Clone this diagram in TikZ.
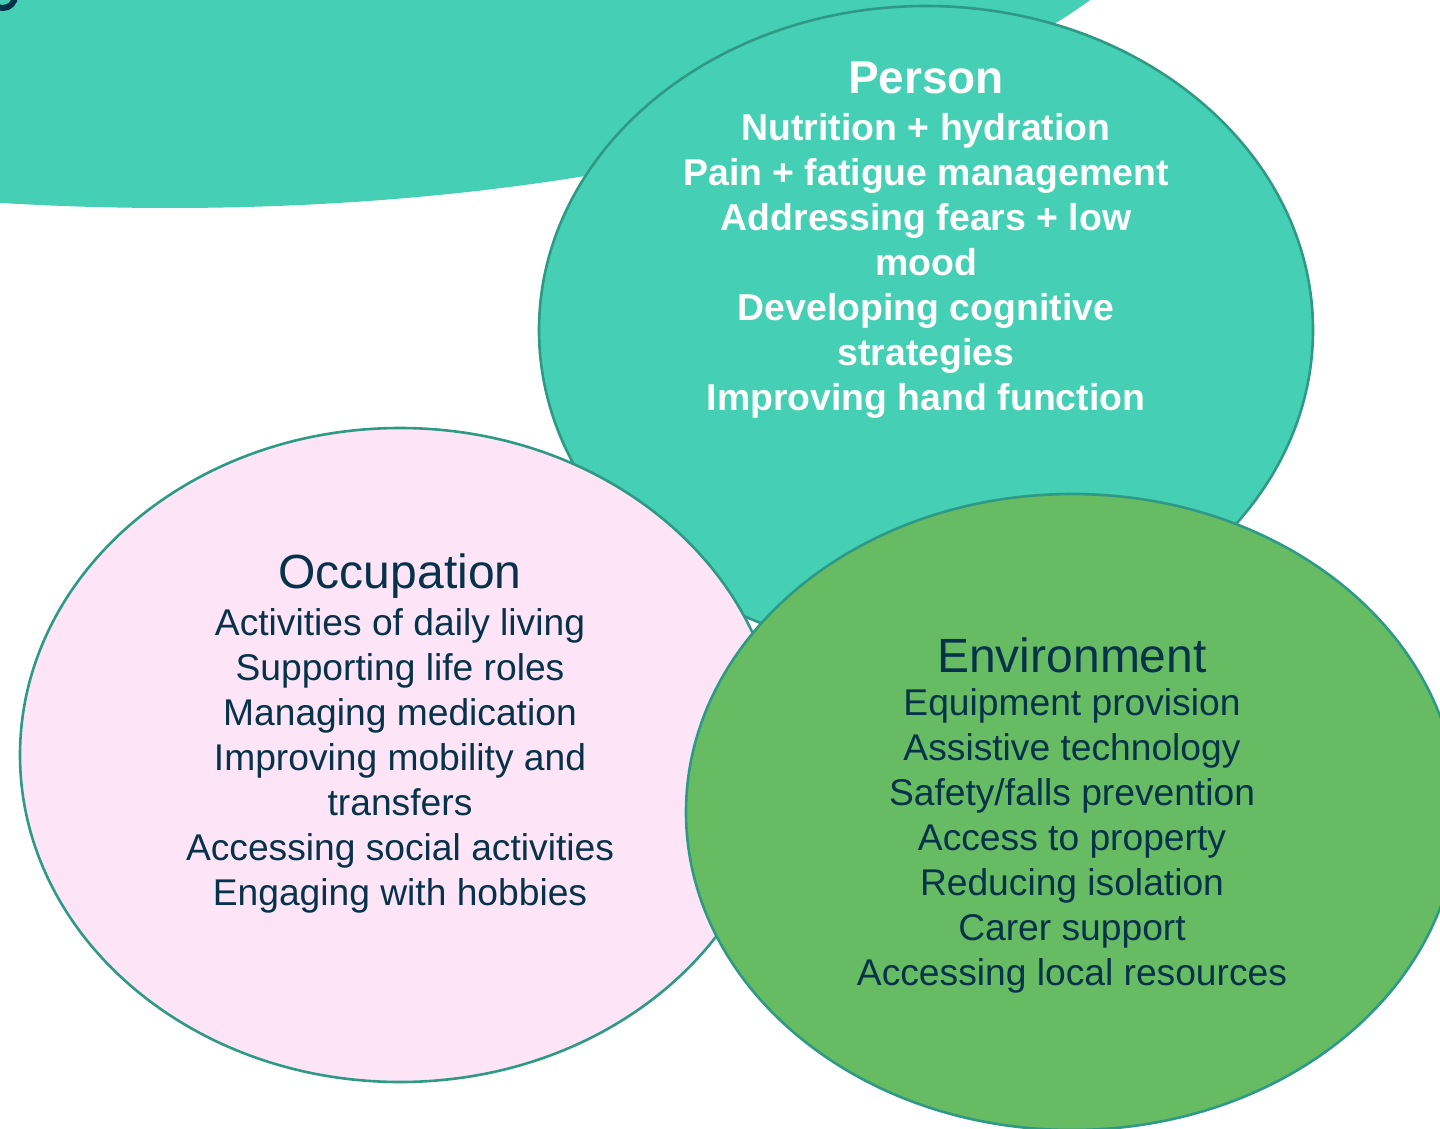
\documentclass[tikz,border=0pt]{standalone}
\usepackage{fontspec}
\setmainfont{Liberation Sans}
\definecolor{tealfill}{HTML}{45CFB4}
\definecolor{rimline}{HTML}{2E9A86}
\definecolor{pinkfill}{HTML}{FDE4F7}
\definecolor{greenfill}{HTML}{66BB63}
\definecolor{inktext}{HTML}{06324A}

\begin{document}
\begin{tikzpicture}[x=0.5pt,y=-0.5pt,
	rim/.style={draw=rimline,line width=1.3pt},
	lighthead/.style={align=center,text=white,font=\fontsize{23}{28}\selectfont\bfseries},
	lightitems/.style={align=center,text=white,font=\fontsize{18.7}{22.5}\selectfont\bfseries},
	darkhead/.style={align=center,text=inktext,font=\fontsize{24}{28}\selectfont},
	darkitems/.style={align=center,text=inktext,font=\fontsize{18.6}{22.5}\selectfont}]
	\useasboundingbox (0,0) rectangle (1440,1129);
	\clip (0,0) rectangle (1440,1129);
	\fill[tealfill] (170,-170) ellipse [x radius=1030, y radius=378];
	\draw[inktext,line width=3pt] (15,-4) arc [start angle=0,end angle=125,radius=12];

	\filldraw[rim,fill=tealfill] (926,330) ellipse [x radius=387, y radius=324];
	\draw (926,78) node(personhead) [lighthead] {Person};
	\draw (926,266) node(personitems) [lightitems] {Nutrition + hydration\\Pain + fatigue management\\Addressing fears + low\\mood\\Developing cognitive\\strategies\\Improving hand function};

	\filldraw[rim,fill=pinkfill] (400,755) ellipse [x radius=380, y radius=327];
	\draw (400,576) node(occhead) [darkhead] {Occupation};
	\draw (400,761) node(occitems) [darkitems] {Activities of daily living\\Supporting life roles\\Managing medication\\Improving mobility and\\transfers\\Accessing social activities\\Engaging with hobbies};

	\filldraw[rim,fill=greenfill] (1072,812) ellipse [x radius=386, y radius=318];
	\draw (1072,655) node(envhead) [darkhead] {Environment};
	\draw (1072,840.5) node(envitems) [darkitems] {Equipment provision\\Assistive technology\\Safety/falls prevention\\Access to property\\Reducing isolation\\Carer support\\Accessing local resources};
\end{tikzpicture}
\end{document}
